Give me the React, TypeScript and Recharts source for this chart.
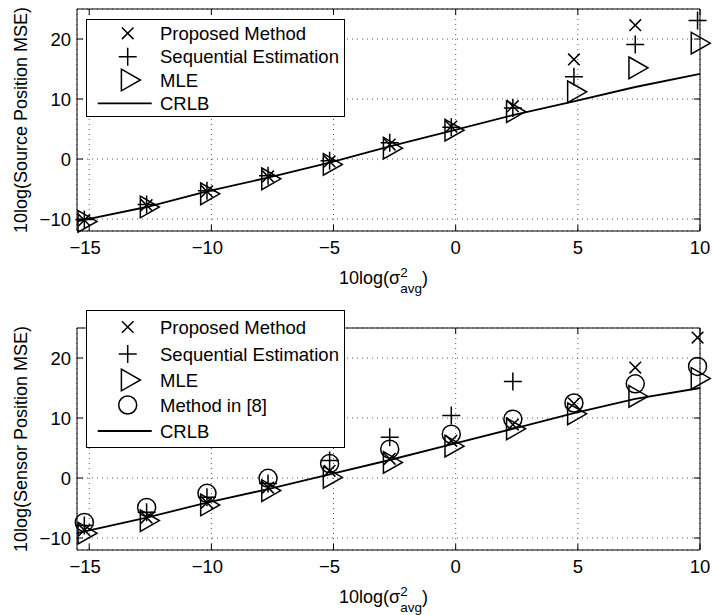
import React from "react";
import {
  ScatterChart,
  Scatter,
  XAxis,
  YAxis,
  CartesianGrid,
  ReferenceLine,
  Legend,
} from "recharts";

// 10log(sigma^2_avg) at which each estimator was evaluated
const snr = [-15.2, -12.65, -10.18, -7.68, -5.16, -2.7, -0.18, 2.34, 4.84, 7.35, 9.9];
// CRLB curve is drawn across the whole x range
const crlbX = [-15.5, -12.65, -10.18, -7.68, -5.16, -2.7, -0.18, 2.34, 4.84, 7.35, 10];

// source position MSE (dB); null = above the plotted range
const proposedSrc = [-10.2, -7.7, -5.4, -2.9, -0.4, 2.4, 5.4, 8.8, 16.6, 22.3, null];
const sequentialSrc = [-10.1, -7.6, -5.3, -2.8, -0.3, 2.7, 5.3, 8.5, 13.7, 19.1, 23.1];
const mleSrc = [-10.4, -8.0, -5.8, -3.3, -0.9, 1.8, 4.8, 7.9, 11.2, 15.2, 19.3];
const crlbSrc = [-10.4, -8.0, -5.4, -3.1, -0.6, 2.1, 4.7, 7.3, 9.6, 12.0, 14.2];

// sensor position MSE (dB)
const proposedSen = [-8.7, -6.6, -4.1, -1.6, 1.2, 3.2, 6.2, 8.9, 12.4, 18.4, 23.4];
const sequentialSen = [-7.9, -5.7, -3.2, -0.9, 2.9, 6.8, 10.4, 16.1, null, null, null];
const mleSen = [-9.2, -7.1, -4.5, -2.1, 0.1, 2.6, 5.3, 8.2, 10.7, 13.6, 16.6];
const method8Sen = [-7.4, -4.9, -2.55, -0.05, 2.4, 4.8, 7.3, 9.8, 12.5, 15.7, 18.6];
const crlbSen = [-9.2, -6.6, -4.1, -1.85, 0.6, 3.0, 5.6, 8.2, 10.8, 13.2, 15.0];

const xTicks = [-15, -10, -5, 0, 5, 10];
const yTicks = [-10, 0, 10, 20];

const FONT = '"Liberation Sans", Arial, Helvetica, sans-serif';
const FS = 18.5;
const TITLE_FS = 18;
const PLOT_W = 623;
const PLOT_H = 222;
const X_DOMAIN: [number, number] = [-15.5, 10];
const Y_DOMAIN: [number, number] = [-12, 25];
const SW = 1.5;

type Pt = { x: number; y: number };
const toPoints = (xs: number[], ys: (number | null)[]): Pt[] =>
  xs.flatMap((x, i) => (ys[i] == null ? [] : [{ x, y: ys[i] as number }]));

// ---- marker glyphs ----
function Cross({ cx, cy }: any) {
  const s = 5.8;
  return (
    <path
      d={`M${cx - s},${cy - s}L${cx + s},${cy + s}M${cx - s},${cy + s}L${cx + s},${cy - s}`}
      stroke="#000"
      strokeWidth={SW}
      fill="none"
    />
  );
}

function Plus({ cx, cy }: any) {
  const s = 9;
  return (
    <path
      d={`M${cx - s},${cy}L${cx + s},${cy}M${cx},${cy - s}L${cx},${cy + s}`}
      stroke="#000"
      strokeWidth={SW}
      fill="none"
    />
  );
}

function Tri({ cx, cy }: any) {
  return (
    <path
      d={`M${cx - 6.3},${cy - 10.8}L${cx + 12.7},${cy}L${cx - 6.3},${cy + 10.8}Z`}
      stroke="#000"
      strokeWidth={SW}
      fill="none"
    />
  );
}

function Ring({ cx, cy }: any) {
  return <circle cx={cx} cy={cy} r={9} stroke="#000" strokeWidth={SW} fill="none" />;
}

const NoDot = () => <g />;

// ---- axes: inward ticks on all four sides ----
function XTick(props: any) {
  const { x, y, payload } = props;
  const v = payload.value as number;
  return (
    <g>
      <line x1={x} y1={y} x2={x} y2={y - 6} stroke="#000" />
      <line x1={x} y1={y - PLOT_H} x2={x} y2={y - PLOT_H + 6} stroke="#000" />
      <text
        x={v < 0 ? x - 4 : x}
        y={y + 22.5}
        textAnchor="middle"
        fontSize={FS}
        fontFamily={FONT}
        fill="#000"
      >
        {v < 0 ? `\u2212${-v}` : String(v)}
      </text>
    </g>
  );
}

function YTick(props: any) {
  const { x, y, payload } = props;
  const v = payload.value as number;
  return (
    <g>
      <line x1={x} y1={y} x2={x + 6} y2={y} stroke="#000" />
      <line x1={x + PLOT_W} y1={y} x2={x + PLOT_W - 6} y2={y} stroke="#000" />
      <text x={x - 6} y={y + 6.5} textAnchor="end" fontSize={FS} fontFamily={FONT} fill="#000">
        {v < 0 ? `\u2212${-v}` : String(v)}
      </text>
    </g>
  );
}

function XTitle({ posX, posY }: any) {
  return (
    <text x={posX} y={posY} fontSize={TITLE_FS} fontFamily={FONT} fill="#000">
      10log(σ
      <tspan dy={-7.5} fontSize={13.5}>
        2
      </tspan>
      <tspan dx={-7.5} dy={16.5} fontSize={13.5}>
        avg
      </tspan>
      <tspan dy={-9}>)</tspan>
    </text>
  );
}

function YTitle({ posX, posY, text }: any) {
  return (
    <text
      x={posX}
      y={posY}
      transform={`rotate(-90, ${posX}, ${posY})`}
      textAnchor="middle"
      fontSize={TITLE_FS}
      fontFamily={FONT}
      fill="#000"
    >
      {text}
    </text>
  );
}

type Series = { name: string; xs: number[]; ys: (number | null)[]; Shape: any };
type LegendRow = { name: string; y: number; Shape?: any };

function LegendBox({ rows, width, height }: { rows: LegendRow[]; width: number; height: number }) {
  return (
    <svg width={width} height={height} style={{ display: "block" }}>
      <rect x={0.5} y={0.5} width={width - 1} height={height - 1} fill="#fff" stroke="#000" />
      {rows.map((r) => (
        <g key={r.name}>
          {r.Shape ? (
            <r.Shape cx={41.7} cy={r.y} />
          ) : (
            <line x1={11.7} x2={65.7} y1={r.y} y2={r.y} stroke="#000" strokeWidth={1.8} />
          )}
          <text x={74} y={r.y + 6.5} fontSize={FS} fontFamily={FONT} fill="#000">
            {r.name}
          </text>
        </g>
      ))}
    </svg>
  );
}

interface PanelProps {
  top: number;
  height: number;
  marginTop: number;
  marginBottom: number;
  yTitle: string;
  series: Series[];
  crlb: number[];
  legendRows: LegendRow[];
  legendTop: number;
  legendHeight: number;
}

function Panel({
  top,
  height,
  marginTop,
  marginBottom,
  yTitle,
  series,
  crlb,
  legendRows,
  legendTop,
  legendHeight,
}: PanelProps) {
  const plotBottom = marginTop + PLOT_H;
  return (
    <div style={{ position: "absolute", left: 0, top, width: 713, height }}>
      <ScatterChart
        width={713}
        height={height}
        margin={{ top: marginTop, right: 13, bottom: marginBottom, left: 0 }}
      >
        <CartesianGrid stroke="#555" strokeDasharray="1 4" />
        <XAxis
          type="number"
          dataKey="x"
          domain={X_DOMAIN}
          ticks={xTicks}
          interval={0}
          height={40}
          tickSize={0}
          tickMargin={0}
          tickLine={false}
          axisLine={{ stroke: "#000" }}
          tick={<XTick />}
          label={<XTitle posX={339} posY={plotBottom + 53} />}
        />
        <YAxis
          type="number"
          dataKey="y"
          domain={Y_DOMAIN}
          ticks={yTicks}
          interval={0}
          width={77}
          tickSize={0}
          tickMargin={0}
          tickLine={false}
          axisLine={{ stroke: "#000" }}
          tick={<YTick />}
          label={<YTitle posX={27} posY={marginTop + PLOT_H / 2} text={yTitle} />}
        />
        <ReferenceLine y={Y_DOMAIN[1]} stroke="#000" />
        <ReferenceLine x={X_DOMAIN[1]} stroke="#000" />
        <Scatter
          name="CRLB"
          data={toPoints(crlbX, crlb)}
          line={{ stroke: "#000", strokeWidth: 1.8 }}
          lineType="joint"
          shape={NoDot}
          isAnimationActive={false}
        />
        {series.map((s) => (
          <Scatter
            key={s.name}
            name={s.name}
            data={toPoints(s.xs, s.ys)}
            shape={(p: any) => <s.Shape cx={p.cx} cy={p.cy} />}
            isAnimationActive={false}
          />
        ))}
        <Legend
          layout="vertical"
          align="center"
          verticalAlign="middle"
          wrapperStyle={{ left: 86, top: legendTop, width: 259, height: legendHeight }}
          content={() => <LegendBox rows={legendRows} width={259} height={legendHeight} />}
        />
      </ScatterChart>
    </div>
  );
}

const sourceSeries: Series[] = [
  { name: "Proposed Method", xs: snr, ys: proposedSrc, Shape: Cross },
  { name: "Sequential Estimation", xs: snr, ys: sequentialSrc, Shape: Plus },
  { name: "MLE", xs: snr, ys: mleSrc, Shape: Tri },
];

const sensorSeries: Series[] = [
  { name: "Proposed Method", xs: snr, ys: proposedSen, Shape: Cross },
  { name: "Sequential Estimation", xs: snr, ys: sequentialSen, Shape: Plus },
  { name: "MLE", xs: snr, ys: mleSen, Shape: Tri },
  { name: "Method in [8]", xs: snr, ys: method8Sen, Shape: Ring },
];

export default function App() {
  return (
    <div
      style={{
        position: "absolute",
        left: 0,
        top: 0,
        width: 713,
        height: 615,
        background: "#fff",
        overflow: "hidden",
      }}
    >
      <Panel
        top={0}
        height={307}
        marginTop={9}
        marginBottom={36}
        yTitle="10log(Source Position MSE)"
        series={sourceSeries}
        crlb={crlbSrc}
        legendTop={19}
        legendHeight={98}
        legendRows={[
          { name: "Proposed Method", y: 14.3, Shape: Cross },
          { name: "Sequential Estimation", y: 37.7, Shape: Plus },
          { name: "MLE", y: 61, Shape: Tri },
          { name: "CRLB", y: 84.3 },
        ]}
      />
      <Panel
        top={300}
        height={315}
        marginTop={28}
        marginBottom={25}
        yTitle="10log(Sensor Position MSE)"
        series={sensorSeries}
        crlb={crlbSen}
        legendTop={10}
        legendHeight={138}
        legendRows={[
          { name: "Proposed Method", y: 17, Shape: Cross },
          { name: "Sequential Estimation", y: 44, Shape: Plus },
          { name: "MLE", y: 70, Shape: Tri },
          { name: "Method in [8]", y: 95, Shape: Ring },
          { name: "CRLB", y: 121 },
        ]}
      />
    </div>
  );
}
